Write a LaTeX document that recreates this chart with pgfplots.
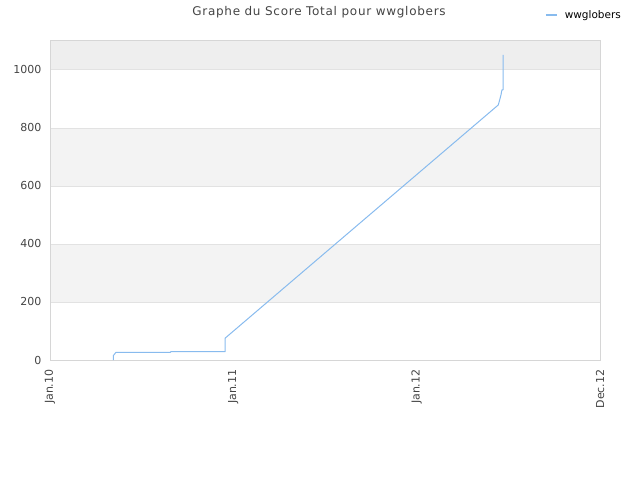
\documentclass[border=0pt]{standalone}
\usepackage{pgfplots}
\pgfplotsset{compat=1.18}
\usepackage{fontspec}
\setmainfont{DejaVu Sans}
\definecolor{serie}{RGB}{136,187,238}
\definecolor{txtgray}{RGB}{68,68,68}
\definecolor{axisgray}{RGB}{214,214,214}
\definecolor{gridgray}{RGB}{226,226,226}
\definecolor{bandA}{RGB}{243,243,243}
\definecolor{bandB}{RGB}{238,238,238}

\begin{document}
\begin{tikzpicture}
\begin{axis}[
  set layers,
  scale only axis,
  width=550pt, height=320pt,
  xmin=0, xmax=3, ymin=0, ymax=1103,
  xtick={0,1,2,3},
  xticklabels={Jan.10, Jan.11, Jan.12, Dec.12},
  ytick={0,200,400,600,800,1000},
  scaled y ticks=false,
  /pgf/number format/1000 sep={},
  /pgf/number format/assume math mode=true,
  major tick length=0pt,
  tick label style={font=\fontsize{11}{13}\selectfont, text=txtgray},
  x tick label style={rotate=90, anchor=east, xshift=-6pt},
  y tick label style={anchor=east, xshift=-5pt},
  axis line style={draw=axisgray, line width=0.8pt},
  ymajorgrids,
  grid style={draw=gridgray, line width=0.8pt},
  legend style={draw=none, fill=none, at={(1.051,1.078)}, anchor=east,
    font=\fontsize{10.5}{12}\selectfont, text=black, inner sep=0pt,
    nodes={inner xsep=7pt}},
  legend cell align=left,
  legend image code/.code={\draw[#1, line width=1.8pt] (0pt,0pt) -- (11pt,0pt);},
]
\pgfplotsextra{
  \begin{pgfonlayer}{axis background}
    \fill[bandA] (axis cs:0,200) rectangle (axis cs:3,400);
    \fill[bandA] (axis cs:0,600) rectangle (axis cs:3,800);
    \fill[bandB] (axis cs:0,1000) rectangle (axis cs:3,1103);
  \end{pgfonlayer}
}

\addplot[color=serie, line width=1pt, line join=round] coordinates {
  (0.345, 0) (0.345, 15) (0.36, 26.5) (0.658, 26.5) (0.658, 28.6)
  (0.955, 28.6) (0.955, 75) (0.964, 80) (2.445, 879) (2.453, 897)
  (2.460, 914) (2.465, 931) (2.471, 931) (2.471, 1052)
};
\addlegendentry{wwglobers}
\end{axis}
\node[font=\fontsize{12}{14}\selectfont\addfontfeatures{LetterSpace=6}, text=txtgray] at (269pt,348pt) {Graphe du Score Total pour wwglobers};
\pgfresetboundingbox
\path[use as bounding box] (-50pt,-120pt) rectangle (590pt,360pt);
\end{tikzpicture}
\end{document}
